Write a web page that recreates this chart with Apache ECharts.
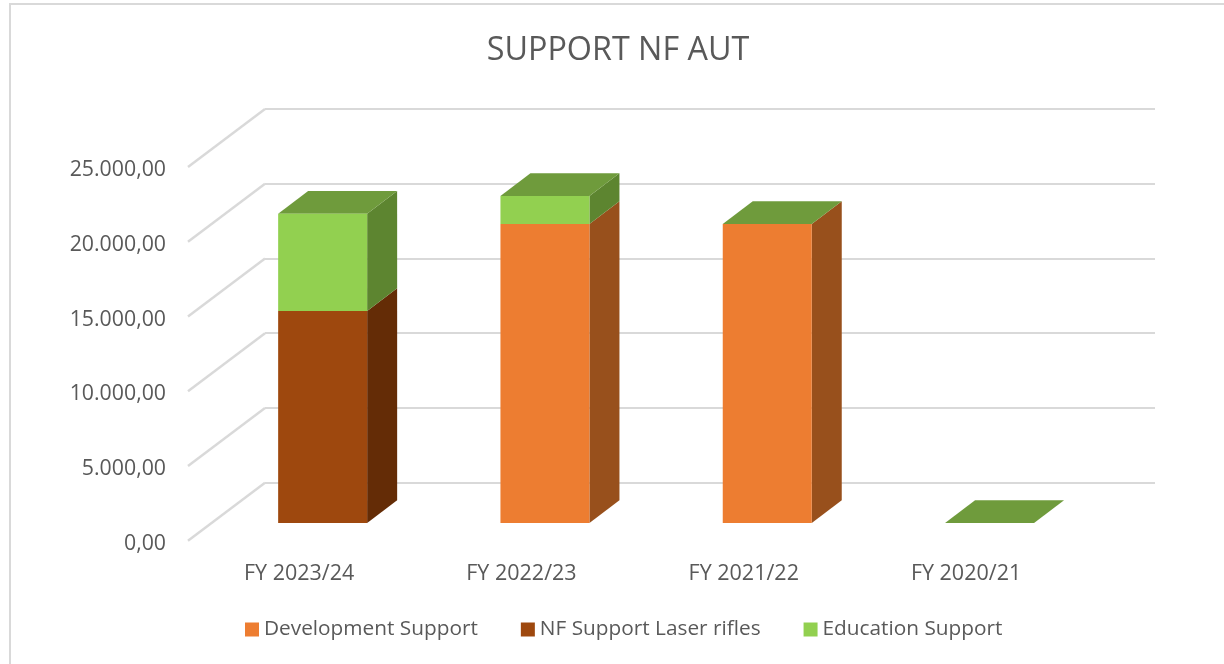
<!DOCTYPE html>
<html style="height: 100%">
<head>
<meta charset="utf-8">
</head>
<body style="height: 100%; margin: 0; background: #fff">
<div id="container" style="width: 1224px; height: 664px"></div>
<script src="https://cdn.jsdelivr.net/npm/echarts/dist/echarts.min.js"></script>
<script>
var categories = ['FY 2023/24', 'FY 2022/23', 'FY 2021/22', 'FY 2020/21'];
var seriesNames = ['Development Support', 'NF Support Laser rifles', 'Education Support'];
var developmentSupport = [0, 20000, 20000, 0];
var laserRifles = [14190, 0, 0, 0];
var educationSupport = [6500, 1880, 0, 0];
var yTicks = [0, 5000, 10000, 15000, 20000, 25000];

var seriesValues = [developmentSupport, laserRifles, educationSupport];
var frontColors = ['#ed7d31', '#9e480e', '#92d050'];
var sideColors = ['#98501c', '#642c06', '#5d8530'];
var topColor = '#6f9b3c';
var gridColor = '#d9d9d9';
var textColor = '#595959';
var fontName = 'Open Sans';

// the fake 3D: bars sit on a plane between the front edge and the back wall
var barWidth = 89;
var depthX = 30;
var depthY = 22.7;
var wallX = 77;
var wallY = 58;

var sideData = [];
var topData = [];
categories.forEach(function (c, i) {
    var base = 0;
    seriesValues.forEach(function (vals, s) {
        if (vals[i] > 0) sideData.push([i, base, base + vals[i], s]);
        base += vals[i];
    });
    topData.push([i, base]);
});

function renderSide(params, api) {
    var i = api.value(0);
    var x = api.coord([i, 0])[0] + barWidth / 2;
    var lo = api.coord([i, api.value(1)])[1];
    var hi = api.coord([i, api.value(2)])[1];
    return {
        type: 'polygon',
        shape: {points: [[x, lo], [x, hi], [x + depthX, hi - depthY], [x + depthX, lo - depthY]]},
        style: {fill: sideColors[api.value(3)]}
    };
}

function renderTop(params, api) {
    var p = api.coord([api.value(0), api.value(1)]);
    var l = p[0] - barWidth / 2;
    var r = p[0] + barWidth / 2;
    return {
        type: 'polygon',
        shape: {points: [[l, p[1]], [r, p[1]], [r + depthX, p[1] - depthY], [l + depthX, p[1] - depthY]]},
        style: {fill: topColor}
    };
}

function renderDiagonal(params, api) {
    var y = api.coord([0, api.value(0)])[1];
    var x = params.coordSys.x;
    return {
        type: 'line',
        shape: {x1: x, y1: y, x2: x - wallX, y2: y + wallY},
        style: {stroke: gridColor, lineWidth: 2.4}
    };
}

function hiddenX(idx) {
    return {type: 'category', gridIndex: idx, data: categories, axisLine: {show: false},
        axisTick: {show: false}, axisLabel: {show: false}, splitLine: {show: false}};
}
function hiddenY(idx) {
    return {type: 'value', gridIndex: idx, min: 0, max: 25000, interval: 5000, axisLine: {show: false},
        axisTick: {show: false}, axisLabel: {show: false}, splitLine: {show: false}};
}

var backY = hiddenY(0);
backY.splitLine = {show: true, lineStyle: {color: gridColor, width: 2}};

var frontX = hiddenX(1);
frontX.axisLabel = {show: true, color: textColor, fontFamily: fontName, fontSize: 21.5, margin: 19.5, interval: 0};
var frontY = hiddenY(1);
frontY.axisLabel = {
    show: true, color: textColor, fontFamily: fontName, fontSize: 21.3, margin: 22,
    formatter: function (v) {
        return v.toLocaleString('de-DE', {minimumFractionDigits: 2, maximumFractionDigits: 2});
    }
};

var series = [{
    name: 'wall',
    type: 'custom',
    xAxisIndex: 0,
    yAxisIndex: 0,
    silent: true,
    data: yTicks.map(function (t) { return [t]; }),
    encode: {y: 0},
    renderItem: renderDiagonal
}];
seriesNames.forEach(function (name, s) {
    series.push({
        name: name,
        type: 'bar',
        stack: 'total',
        xAxisIndex: 2,
        yAxisIndex: 2,
        barWidth: barWidth,
        itemStyle: {color: frontColors[s]},
        data: seriesValues[s]
    });
});
series.push({
    name: 'sides',
    type: 'custom',
    xAxisIndex: 2,
    yAxisIndex: 2,
    data: sideData,
    encode: {x: 0, y: [1, 2]},
    renderItem: renderSide
});
series.push({
    name: 'tops',
    type: 'custom',
    xAxisIndex: 2,
    yAxisIndex: 2,
    data: topData,
    encode: {x: 0, y: 1},
    renderItem: renderTop
});

var myChart = echarts.init(document.getElementById('container'), null, {renderer: 'canvas'});
myChart.setOption({
    animation: false,
    backgroundColor: '#fff',
    title: {
        text: 'SUPPORT NF AUT',
        left: 613,
        top: 30,
        textAlign: 'center',
        textStyle: {color: textColor, fontFamily: fontName, fontSize: 32.3, fontWeight: 'normal'}
    },
    legend: {
        data: seriesNames,
        left: 245,
        top: 619,
        padding: 0,
        icon: 'rect',
        itemWidth: 14,
        itemHeight: 14,
        itemGap: 43,
        textStyle: {color: textColor, fontFamily: fontName, fontSize: 20.8},
        selectedMode: false
    },
    grid: [
        {left: 265, top: 109, width: 890, height: 373.7},
        {left: 188, top: 170, width: 889.2, height: 373.7},
        {left: 211.5, top: 149.3, width: 889.2, height: 373.7}
    ],
    xAxis: [hiddenX(0), frontX, hiddenX(2)],
    yAxis: [backY, frontY, hiddenY(2)],
    series: series,
    graphic: [{
        type: 'polyline',
        silent: true,
        shape: {points: [[10, 664], [10, 4], [1224, 4]]},
        style: {stroke: '#d9d9d9', lineWidth: 2, fill: null}
    }]
});
</script>
</body>
</html>
